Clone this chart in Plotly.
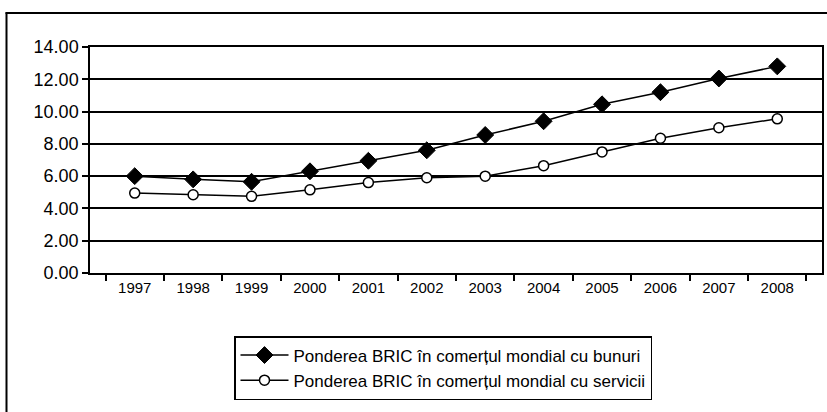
import plotly.graph_objects as go

years = ["1997", "1998", "1999", "2000", "2001", "2002", "2003", "2004", "2005", "2006", "2007", "2008"]
bunuri = [6.0, 5.8, 5.65, 6.3, 6.95, 7.6, 8.55, 9.4, 10.45, 11.2, 12.05, 12.8]
servicii = [4.95, 4.85, 4.75, 5.15, 5.6, 5.9, 6.0, 6.65, 7.5, 8.35, 9.0, 9.55]
name_bunuri = "Ponderea BRIC în comerțul mondial cu bunuri"
name_servicii = "Ponderea BRIC în comerțul mondial cu servicii"
y_ticks = [0, 2, 4, 6, 8, 10, 12, 14]

W, H = 827, 412
L, R, T, B = 90, 822, 47, 273

def px(x):
    return (x - L) / (R - L)

def py(y):
    return (B - y) / (B - T)

fig = go.Figure()
fig.add_trace(go.Scatter(
    x=years, y=bunuri, name=name_bunuri, mode="lines+markers",
    line=dict(color="black", width=1.5),
    marker=dict(symbol="diamond", size=13, color="black", line=dict(color="black", width=1)),
))
fig.add_trace(go.Scatter(
    x=years, y=servicii, name=name_servicii, mode="lines+markers",
    line=dict(color="black", width=1.5),
    marker=dict(symbol="circle", size=10, color="white", line=dict(color="black", width=1.5)),
))

shapes = [
    dict(type="line", xref="paper", yref="paper", x0=px(6.5), x1=px(6.5), y0=py(12.5), y1=py(420),
         line=dict(color="black", width=2)),
    dict(type="line", xref="paper", yref="paper", x0=px(5.5), x1=px(835), y0=py(13), y1=py(13),
         line=dict(color="black", width=2)),
]

title_font = dict(family="Liberation Serif, Times New Roman, serif", size=22, color="black")
annotations = [
    dict(text="<b>ș</b>", x=px(250), y=py(2), xref="paper", yref="paper", xanchor="center", yanchor="bottom",
         showarrow=False, font=title_font),
    dict(text="<b>)</b>", x=px(526), y=py(2), xref="paper", yref="paper", xanchor="center", yanchor="bottom",
         showarrow=False, font=title_font),
    dict(text="<b>(%p</b>", x=px(713), y=py(2), xref="paper", yref="paper", xanchor="left", yanchor="bottom",
         showarrow=False, font=title_font),
]

fig.update_layout(
    width=W, height=H,
    margin=dict(l=L, r=W - R, t=T, b=H - B, autoexpand=False),
    paper_bgcolor="white", plot_bgcolor="white",
    font=dict(family="Liberation Sans, Arial, sans-serif", color="black"),
    showlegend=True,
    legend=dict(
        x=px(234), y=py(336), xanchor="left", yanchor="top",
        bordercolor="black", borderwidth=1.5, bgcolor="white",
        font=dict(family="Liberation Sans, Arial, sans-serif", size=17, color="black"),
        itemwidth=48, tracegroupgap=0,
    ),
    xaxis=dict(
        type="category", showgrid=False, showline=True, linecolor="black", linewidth=1.5,
        mirror=True, ticks="outside", tickson="boundaries", ticklen=6, tickcolor="black", tickwidth=1.5,
        tickfont=dict(family="Liberation Sans, Arial, sans-serif", size=15, color="black"),
        fixedrange=True,
    ),
    yaxis=dict(
        range=[0, 14], tickvals=y_ticks, tickformat=".2f",
        showgrid=True, gridcolor="black", gridwidth=1.5,
        showline=True, linecolor="black", linewidth=1.5, mirror=True,
        ticks="outside", ticklen=6, tickcolor="black", tickwidth=1.5,
        zeroline=False,
        tickfont=dict(family="Liberation Sans, Arial, sans-serif", size=18, color="black"),
        fixedrange=True,
    ),
    shapes=shapes,
    annotations=annotations,
)

fig.write_html(
    "out.html",
    config={"displayModeBar": False},
    post_script="document.body.style.margin='0';document.body.style.overflow='hidden';",
)
